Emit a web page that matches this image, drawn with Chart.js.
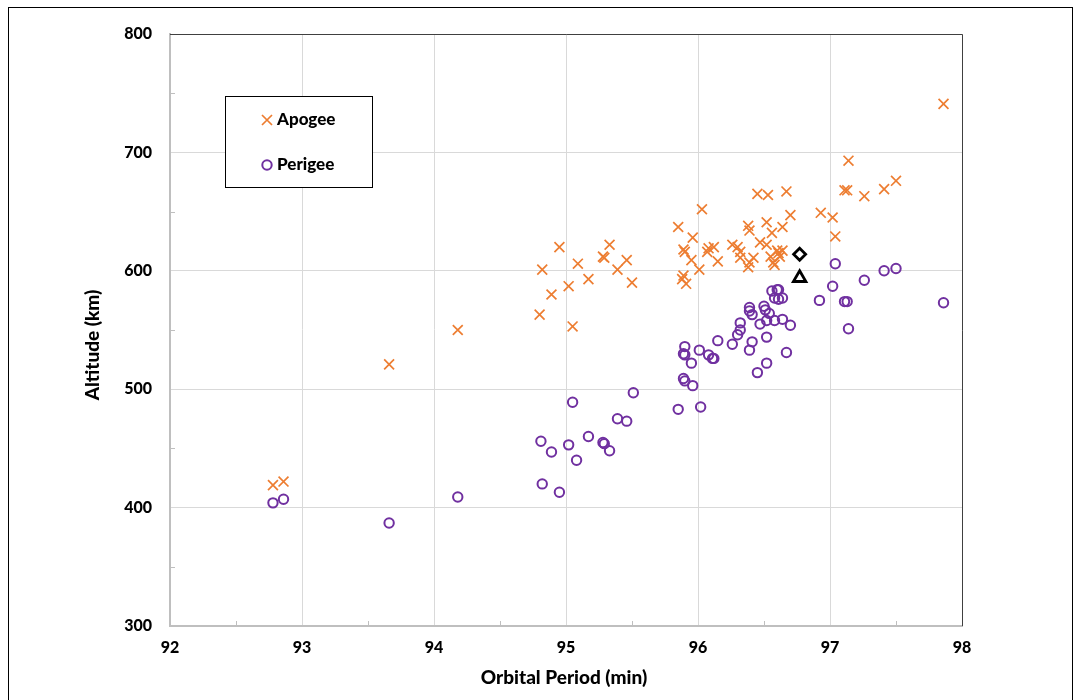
<!DOCTYPE html>
<html>
<head>
<meta charset="utf-8">
<script src="https://cdn.jsdelivr.net/npm/chart.js@4.4.1/dist/chart.umd.min.js"></script>
<style>
  html, body { margin: 0; padding: 0; background: #fff; }
  #wrap { position: relative; width: 1075px; height: 700px; overflow: hidden; }
  #frame { position: absolute; left: 8px; top: 7px; width: 1063px; height: 720px; border: 1px solid #000; pointer-events: none; }
  canvas { position: absolute; left: 0; top: 0; }
</style>
</head>
<body>
<div id="wrap">
  <canvas id="c" width="1075" height="700"></canvas>
  <div id="frame"></div>
</div>
<script>
// ---- data ----
const apogeePeriod = [92.78, 92.86, 93.66, 94.18, 94.80, 94.82, 94.89, 94.95, 95.02, 95.05, 95.09, 95.17, 95.28, 95.29, 95.33, 95.39, 95.46, 95.50,
  95.85, 95.96, 95.89, 95.90, 95.95, 96.01, 95.89, 95.88, 95.91, 96.03, 96.08, 96.12, 96.07, 96.15, 96.26, 96.30, 96.32, 96.32, 96.38,
  96.38, 96.39, 96.45, 96.53, 96.67, 96.70, 96.52, 96.64, 96.56, 96.47, 96.52, 96.60, 96.61, 96.42, 96.39, 96.55, 96.57, 96.62, 96.58, 96.64,
  96.93, 97.02, 97.04, 97.14, 97.11, 97.13, 97.26, 97.41, 97.50, 97.86];
const apogeeAlt = [419, 422, 521, 550, 563, 601, 580, 620, 587, 553, 606, 593, 612, 611, 622, 601, 609, 590,
  637, 628, 618, 616, 609, 601, 596, 593, 589, 652, 619, 620, 616, 608, 622, 620, 616, 611, 603,
  638, 634, 665, 664, 667, 647, 641, 637, 632, 624, 622, 617, 615, 611, 607, 612, 607, 612, 605, 617,
  649, 645, 629, 693, 668, 668, 663, 669, 676, 741];

const perigeePeriod = [92.78, 92.86, 93.66, 94.18, 94.81, 94.82, 94.89, 94.95, 95.02, 95.05, 95.08, 95.17, 95.28, 95.29, 95.33, 95.39, 95.46, 95.51,
  95.85, 95.89, 95.90, 95.96, 96.02, 95.90, 95.89, 95.90, 95.95, 96.01, 96.08, 96.11, 96.12, 96.15, 96.26, 96.30, 96.32, 96.32,
  96.39, 96.39, 96.41, 96.41, 96.39, 96.45, 96.52, 96.52, 96.50, 96.51, 96.54, 96.47, 96.52, 96.58, 96.64, 96.70, 96.67,
  96.56, 96.60, 96.61, 96.58, 96.61, 96.64, 96.92, 97.11, 97.13, 97.02, 97.04, 97.14, 97.26, 97.41, 97.50, 97.86];
const perigeeAlt = [404, 407, 387, 409, 456, 420, 447, 413, 453, 489, 440, 460, 455, 454, 448, 475, 473, 497,
  483, 509, 507, 503, 485, 536, 530, 529, 522, 533, 529, 526, 526, 541, 538, 546, 550, 556,
  569, 566, 563, 540, 533, 514, 522, 544, 570, 567, 564, 555, 558, 558, 559, 554, 531,
  583, 584, 584, 577, 576, 577, 575, 574, 574, 587, 606, 551, 592, 600, 602, 573];

const refPeriod = [96.77];
const refApogee = [614];
const refPerigee = [594];

const xTicks = [92, 93, 94, 95, 96, 97, 98];
const yTicks = [300, 400, 500, 600, 700, 800];
const seriesNames = ['Apogee', 'Perigee'];
const xTitle = 'Orbital Period (min)';
const yTitle = 'Altitude (km)';

const ORANGE = '#ED7D31';
const PURPLE = '#7030A0';
const FONT = 'Lato, "Open Sans", sans-serif';

function pts(xs, ys) { return xs.map((x, i) => ({ x: x, y: ys[i] })); }

const decor = {
  id: 'decor',
  afterDraw(chart) {
    const ctx = chart.ctx;
    const a = chart.chartArea;
    const xs = chart.scales.x, ys = chart.scales.y;
    ctx.save();
    // minor ticks
    ctx.strokeStyle = '#bfbfbf';
    ctx.lineWidth = 1;
    for (let v = xTicks[0] + 0.5; v < xTicks[xTicks.length - 1]; v += 1) {
      const px = Math.round(xs.getPixelForValue(v)) + 0.5;
      ctx.beginPath(); ctx.moveTo(px, a.bottom); ctx.lineTo(px, a.bottom - 5); ctx.stroke();
    }
    for (let v = yTicks[0] + 50; v < yTicks[yTicks.length - 1]; v += 100) {
      const py = Math.round(ys.getPixelForValue(v)) + 0.5;
      ctx.beginPath(); ctx.moveTo(a.left, py); ctx.lineTo(a.left + 5, py); ctx.stroke();
    }
    // top / right border
    ctx.strokeStyle = '#404040';
    ctx.lineWidth = 1;
    ctx.beginPath();
    ctx.moveTo(a.left, Math.round(a.top) + 0.5);
    ctx.lineTo(Math.round(a.right) + 0.5, Math.round(a.top) + 0.5);
    ctx.lineTo(Math.round(a.right) + 0.5, a.bottom);
    ctx.stroke();
    // axis titles
    ctx.fillStyle = '#000';
    ctx.font = '900 19px ' + FONT;
    ctx.textAlign = 'center';
    ctx.textBaseline = 'middle';
    ctx.fillText(xTitle, (a.left + a.right) / 2 - 2, 678);
    ctx.save();
    ctx.translate(93, 345);
    ctx.rotate(-Math.PI / 2);
    ctx.fillText(yTitle, 0, 0);
    ctx.restore();
    // legend
    ctx.strokeStyle = '#000';
    ctx.lineWidth = 1;
    ctx.fillStyle = '#fff';
    ctx.fillRect(225.5, 96.5, 147, 91);
    ctx.strokeRect(225.5, 96.5, 147, 91);
    // cross
    ctx.strokeStyle = ORANGE; ctx.lineWidth = 1.7;
    const cx = 267, cy = 120, d = 5;
    ctx.beginPath();
    ctx.moveTo(cx - d, cy - d); ctx.lineTo(cx + d, cy + d);
    ctx.moveTo(cx - d, cy + d); ctx.lineTo(cx + d, cy - d);
    ctx.stroke();
    // circle
    ctx.strokeStyle = PURPLE; ctx.lineWidth = 2;
    ctx.beginPath(); ctx.arc(267, 165, 4.7, 0, Math.PI * 2); ctx.stroke();
    ctx.fillStyle = '#000';
    ctx.font = '900 17px ' + FONT;
    ctx.textAlign = 'left';
    ctx.fillText(seriesNames[0], 277, 120);
    ctx.fillText(seriesNames[1], 277, 165);
    ctx.restore();
  }
};

new Chart(document.getElementById('c'), {
  type: 'scatter',
  data: {
    datasets: [
      { label: seriesNames[0], data: pts(apogeePeriod, apogeeAlt), pointStyle: 'crossRot', pointRadius: 7, borderColor: ORANGE, backgroundColor: ORANGE, pointBorderWidth: 1.7 },
      { label: seriesNames[1], data: pts(perigeePeriod, perigeeAlt), pointStyle: 'circle', pointRadius: 4.7, borderColor: PURPLE, backgroundColor: 'rgba(0,0,0,0)', pointBorderWidth: 2 },
      { label: 'ref1', data: pts(refPeriod, refApogee), pointStyle: 'rectRot', pointRadius: 6, borderColor: '#000', backgroundColor: '#fff', pointBorderWidth: 2.8 },
      { label: 'ref2', data: pts(refPeriod, refPerigee), pointStyle: 'triangle', pointRadius: 7.2, borderColor: '#000', backgroundColor: 'rgba(255,255,255,0)', pointBorderWidth: 2.8 }
    ]
  },
  options: {
    responsive: false,
    animation: false,
    devicePixelRatio: 1,
    layout: { padding: { left: 0, right: 113, top: 34, bottom: 0 } },
    plugins: { legend: { display: false }, tooltip: { enabled: false } },
    scales: {
      x: {
        type: 'linear', min: xTicks[0], max: xTicks[xTicks.length - 1],
        afterBuildTicks(s) { s.ticks = xTicks.map(v => ({ value: v })); },
        afterFit(s) { s.height = 74; },
        ticks: { color: '#000', font: { family: FONT, size: 16, weight: '900' }, padding: 12 },
        grid: { color: '#d9d9d9', lineWidth: 1, drawTicks: false },
        border: { color: '#bfbfbf', width: 2 }
      },
      y: {
        type: 'linear', min: yTicks[0], max: yTicks[yTicks.length - 1],
        afterBuildTicks(s) { s.ticks = yTicks.map(v => ({ value: v })); },
        afterFit(s) { s.width = 170; },
        ticks: { color: '#000', font: { family: FONT, size: 16, weight: '900' }, padding: 18 },
        grid: { color: '#d9d9d9', lineWidth: 1, drawTicks: false },
        border: { color: '#bfbfbf', width: 2 }
      }
    }
  },
  plugins: [decor]
});
</script>
</body>
</html>
